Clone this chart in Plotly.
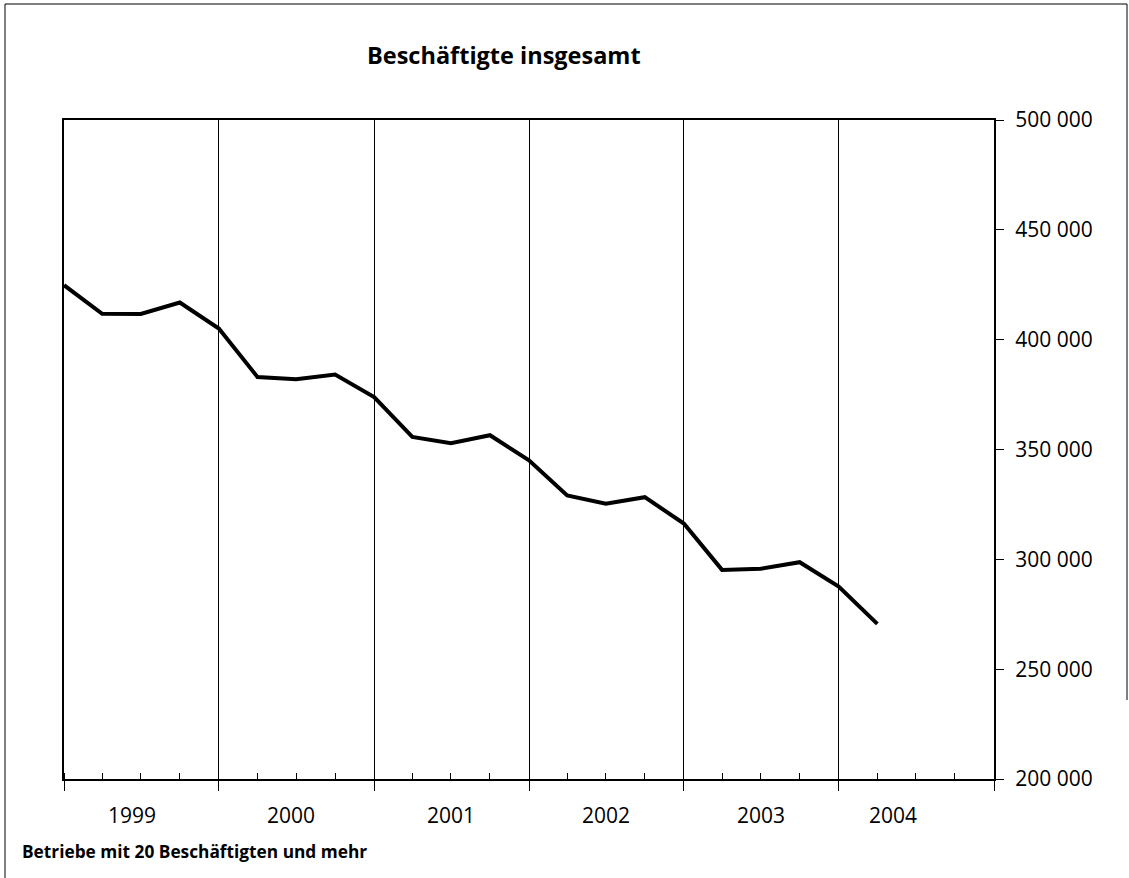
import plotly.graph_objects as go

# ---- data ----
quarters = [f"{y}-{m:02d}-01" for y in range(1999, 2005) for m in (1, 4, 7, 10)][:22]
employees = [424800, 411800, 411700, 416900, 405100, 383000, 382000, 384100,
             373900, 355700, 352900, 356500, 345100, 329100, 325300, 328300,
             316300, 295200, 295700, 298700, 287600, 270600]
year_labels = ["1999", "2000", "2001", "2002", "2003", "2004"]
year_label_pos = ["1999-06-10", "2000-06-20", "2001-07-01", "2002-07-01", "2003-07-01", "2004-05-07"]
year_bounds = [f"{y}-01-01" for y in range(1999, 2006)]
y_ticks = [200000, 250000, 300000, 350000, 400000, 450000, 500000]

FONT = "Open Sans"

fig = go.Figure()
fig.add_trace(go.Scatter(x=quarters, y=employees, mode="lines",
                         line=dict(color="black", width=4), showlegend=False,
                         hoverinfo="skip"))

L, R, T, B = 64, 135, 120, 99
W, H = 1129, 878
pw, ph = W - L - R, H - T - B

def px(xp):
    return (xp - L) / pw

def py(yp):
    return (H - B - yp) / ph

fig.update_layout(
    width=W, height=H,
    margin=dict(l=L, r=R, t=T, b=B),
    paper_bgcolor="white", plot_bgcolor="white",
    separators=", ",
    font=dict(family=FONT, color="black", size=21),
    xaxis=dict(
        type="date",
        range=[year_bounds[0], year_bounds[-1]],
        tickvals=year_bounds, ticktext=[""] * len(year_bounds),
        ticks="outside", ticklen=10, tickwidth=1, tickcolor="black",
        showgrid=True, gridcolor="black", gridwidth=1,
        showline=True, linecolor="black", linewidth=2, mirror=True,
        minor=dict(dtick="M3", tick0="1999-01-01", ticks="inside", ticklen=6,
                   tickwidth=1, tickcolor="black", showgrid=False),
        zeroline=False,
    ),
    yaxis=dict(
        side="right",
        range=[200000, 500000],
        tickvals=y_ticks, tickformat=",.0f",
        ticks="outside", ticklen=8, tickwidth=1, tickcolor="black",
        ticklabelstandoff=7,
        showgrid=False, zeroline=False,
        showline=True, linecolor="black", linewidth=2, mirror=True,
        tickfont=dict(size=21),
    ),
)

annotations = []
for lab, pos in zip(year_labels, year_label_pos):
    annotations.append(dict(x=pos, y=0, xref="x", yref="paper", text=lab,
                            showarrow=False, yanchor="top", yshift=-20,
                            font=dict(size=21, family=FONT)))
annotations.append(dict(x=px(504), y=py(55), xref="paper", yref="paper",
                        text="<b>Beschäftigte insgesamt</b>", showarrow=False,
                        xanchor="center", yanchor="middle",
                        font=dict(size=23.5, family=FONT)))
annotations.append(dict(x=px(20), y=py(851), xref="paper", yref="paper",
                        text="<b>Betriebe mit 20 Beschäftigten und mehr</b>",
                        showarrow=False, xanchor="left", yanchor="middle",
                        font=dict(size=17.3, family=FONT)))
fig.update_layout(annotations=annotations)

# outer frame
fig.add_shape(type="line", xref="paper", yref="paper",
              x0=px(5), x1=px(5), y0=py(4), y1=py(878), line=dict(color="black", width=1))
fig.add_shape(type="line", xref="paper", yref="paper",
              x0=px(5), x1=px(1127), y0=py(4), y1=py(4), line=dict(color="black", width=1))
fig.add_shape(type="line", xref="paper", yref="paper",
              x0=px(1127), x1=px(1127), y0=py(4), y1=py(700), line=dict(color="black", width=1))

fig.write_html("out.html", config={"displayModeBar": False},
               post_script="document.body.style.margin='0';")
